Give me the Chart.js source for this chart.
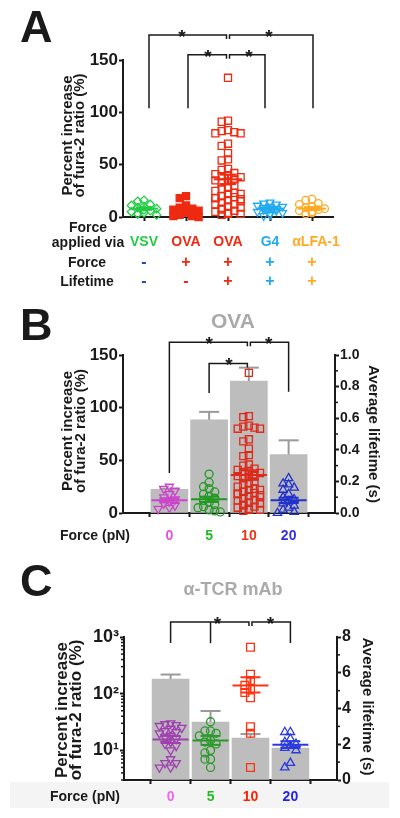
<!DOCTYPE html>
<html>
<head>
<meta charset="utf-8">
<script src="https://cdn.jsdelivr.net/npm/chart.js@4/dist/chart.umd.min.js"></script>
<style>
  body { margin: 0; background: #fff; width: 400px; height: 818px; position: relative; overflow: hidden; }
  canvas { position: absolute; left: 0; }
</style>
</head>
<body>
<canvas id="chartA" width="400" height="300" style="top:0"></canvas>
<canvas id="chartB" width="400" height="260" style="top:300px"></canvas>
<canvas id="chartC" width="400" height="258" style="top:560px"></canvas>
<script>
// ---- Panel A: percent increase of fura-2 ratio ----
const groupsA = ["VSV", "OVA", "OVA", "G4", "\u03b1LFA-1"];
const forceSignsA = ["-", "+", "+", "+", "+"];
const lifetimeSignsA = ["-", "-", "+", "+", "+"];
const ticksA = [0, 50, 100, 150];
const vsvRatio = [16, 15, 12, 11, 10, 9, 8, 7, 6, 5, 4, 3, 3, 2];
const ovaNoLifetimeRatio = [20, 18, 11, 9, 8, 7, 6, 5, 4, 3, 2, 2, 1, 1, 0];
const ovaRatio = [133, 92, 91, 83, 82, 81, 80, 80, 70, 68, 61, 55, 54, 46, 45,
  42, 41, 40, 39, 38, 37, 36, 35, 34, 33, 30, 28, 27, 25, 23, 22, 20, 18, 16, 14,
  12, 10, 8, 6, 5, 4, 3, 3, 2, 22, 20, 19, 18, 17, 15, 12, 9, 7];
const g4Ratio = [14, 13, 12, 11, 10, 10, 9, 8, 8, 7, 6, 5, 4, 3, 2, 1];
const lfaRatio = [17, 16, 13, 12, 10, 9, 8, 7, 6, 5, 4, 3];
const meansA = [8, 6, 36, 8, 8];
const semA = [1.2, 1.8, 4.5, 1, 1.5];

// ---- Panel B: OVA, force in pN ----
const forcesB = ["0", "5", "10", "20"];
const ticksB = [0, 50, 100, 150];
const lifetimeTicksB = [0, 0.2, 0.4, 0.6, 0.8, 1.0];
const lifetimeB = [0.15, 0.59, 0.835, 0.37];
const lifetimeSemB = [0.005, 0.05, 0.085, 0.09];
const ratioB0 = [25, 23, 21, 18, 15, 13, 11, 9, 7, 5, 4];
const ratioB5 = [37, 29, 25, 23, 20, 18, 16, 14, 12, 10, 8, 6, 5, 3, 2, 1];
const ratioB20 = [33, 28, 27, 24, 22, 18, 15, 13, 11, 9, 7, 5, 3, 1, 0];
const meansB = [12, 13, 36, 12];
const semB = [2, 2.5, 4.5, 2.5];

// ---- Panel C: alpha-TCR mAb ----
const forcesC = ["0", "5", "10", "20"];
const ticksC = [10, 100, 1000];
const lifetimeTicksC = [0, 2, 4, 6, 8];
const lifetimeC = [5.65, 3.24, 2.35, 1.79];
const lifetimeSemC = [0.25, 0.62, 0.22, 0.1];
const tcrRatio0 = [30, 29, 28, 27, 25, 24, 22, 21, 20, 18, 17, 16, 14, 13, 12, 10, 7, 6, 6, 5, 5];
const tcrRatio5 = [32, 22, 22, 20, 18, 15, 14, 13, 10, 9, 7, 7, 5];
const tcrRatio10 = [660, 220, 170, 140, 120, 105, 85, 26, 20, 5];
const tcrRatio20 = [21, 21, 16, 14, 13, 12, 11, 10, 6, 5];
const meansC = [15.5, 15, 140, 12.5];
const semLoC = [13.5, 12.5, 105, 11];
const semHiC = [18, 18, 195, 14.5];

// ---- styles ----
const FONT = "'Liberation Sans', Arial, sans-serif";
const INK = "#1a1a1a";
const BAR_GREY = "#bdbdbd";
const colorsA = ["#22cc44", "#ee2a11", "#ee2a11", "#22aaee", "#ffaa22"];
const signColorsA = ["#2244cc", "#ee2a11", "#ee2a11", "#22aaee", "#ffaa22"];
const colorsB = ["#cc44cc", "#229922", "#dd2a1a", "#2233cc"];
const labelColorsB = ["#dd55dd", "#22bb22", "#ee3311", "#3333dd"];
const colorsC = ["#a040b0", "#2a9a2a", "#ff3311", "#2a3ae0"];
const labelColorsC = ["#ee66ee", "#22bb22", "#ff2200", "#2222ee"];

Chart.defaults.font.family = FONT;
Chart.defaults.font.weight = "bold";
Chart.defaults.color = INK;

// spread points sideways where values crowd together
function swarm(values, center, step, gap, frac) {
  const slots = [0, -1, 1, -2, 2];
  const placed = [];
  return values.map(v => {
    const p = frac(v);
    let best = 0, bestHits = Infinity;
    for (const s of slots) {
      const hits = placed.filter(q => q.s === s && Math.abs(q.p - p) < gap).length;
      if (hits < bestHits) { best = s; bestHits = hits; }
      if (hits === 0) break;
    }
    placed.push({ s: best, p });
    return { x: center + best * step, y: v };
  });
}

function pointSet(points, color, style, opts = {}) {
  return Object.assign({
    type: "scatter",
    data: points,
    pointStyle: style,
    pointRadius: 4,
    pointBorderWidth: 1.3,
    borderColor: color,
    backgroundColor: "rgba(0,0,0,0)",
    yAxisID: "y",
    clip: false,
    order: 1
  }, opts);
}

function text(ctx, str, x, y, o = {}) {
  ctx.save();
  ctx.font = `${o.weight || "bold"} ${o.size || 14}px ${FONT}`;
  ctx.fillStyle = o.color || INK;
  ctx.textAlign = o.align || "center";
  ctx.textBaseline = o.baseline || "middle";
  ctx.translate(x, y);
  if (o.rotate) ctx.rotate(o.rotate);
  ctx.fillText(str, 0, 0);
  ctx.restore();
}

function line(ctx, pts, color, width) {
  ctx.save();
  ctx.strokeStyle = color;
  ctx.lineWidth = width;
  ctx.beginPath();
  pts.forEach((p, i) => (i ? ctx.lineTo(p[0], p[1]) : ctx.moveTo(p[0], p[1])));
  ctx.stroke();
  ctx.restore();
}

// half bracket; notch side gets a short drop at the centre
function bracket(ctx, x1, yEnd1, x2, yEnd2, yLevel) {
  line(ctx, [[x1, yEnd1], [x1, yLevel], [x2, yLevel], [x2, yEnd2]], INK, 1.5);
}

function star(ctx, x, yLevel) {
  text(ctx, "*", x, yLevel + 8, { size: 19, baseline: "alphabetic" });
}

function meanSem(ctx, xs, ys, xv, mean, lo, hi, color, longHalf, shortHalf) {
  const cx = xs.getPixelForValue(xv);
  const my = ys.getPixelForValue(mean);
  const ly = ys.getPixelForValue(lo);
  const hy = ys.getPixelForValue(hi);
  line(ctx, [[cx - longHalf, my], [cx + longHalf, my]], color, 2);
  line(ctx, [[cx, ly], [cx, hy]], color, 2);
  line(ctx, [[cx - shortHalf, ly], [cx + shortHalf, ly]], color, 2);
  line(ctx, [[cx - shortHalf, hy], [cx + shortHalf, hy]], color, 2);
}

function barErrors(ctx, xs, ys, values, sems) {
  values.forEach((v, i) => {
    const cx = xs.getPixelForValue(i + 1);
    const top = ys.getPixelForValue(v + sems[i]);
    const base = ys.getPixelForValue(v);
    line(ctx, [[cx, base], [cx, top]], "#9a9a9a", 2);
    line(ctx, [[cx - 10, top], [cx + 10, top]], "#9a9a9a", 2);
  });
}

function minorTicks(ctx, scale, values, side) {
  values.forEach(v => {
    const py = scale.getPixelForValue(v);
    const x0 = side === "left" ? scale.right : scale.left;
    const x1 = side === "left" ? x0 - 3 : x0 + 3;
    line(ctx, [[x0, py], [x1, py]], INK, 1.5);
  });
}

function axisBase(extra) {
  return Object.assign({
    border: { display: true, color: INK, width: 2 },
    grid: { display: true, drawOnChartArea: false, drawTicks: true, tickLength: 4, tickWidth: 2, tickColor: INK },
    ticks: { font: { size: 17, weight: "bold" }, color: INK, padding: 1 }
  }, extra);
}

function xAxis(count) {
  return axisBase({
    type: "linear", min: 0.5, max: count + 0.5,
    afterBuildTicks: s => { s.ticks = Array.from({ length: count }, (_, i) => ({ value: i + 1 })); },
    ticks: { display: false },
    afterFit: s => { s.height = 5; }
  });
}

function leftTitle(ctx, xa, xb, yc, size) {
  text(ctx, "Percent increase", xa, yc, { size, rotate: -Math.PI / 2, baseline: "alphabetic" });
  text(ctx, "of fura-2 ratio (%)", xb, yc, { size, rotate: -Math.PI / 2, baseline: "alphabetic" });
}

const baseOptions = {
  responsive: false,
  animation: false,
  devicePixelRatio: 1,
  plugins: { legend: { display: false }, tooltip: { enabled: false } }
};

// ================= Panel A =================
const fracA = v => v / 150;
const pointsA = [
  pointSet(swarm(vsvRatio, 1, 0.15, 0.035, fracA), colorsA[0], "rectRot", { pointRadius: 4.2 }),
  pointSet(swarm(ovaNoLifetimeRatio, 2, 0.15, 0.035, fracA), colorsA[1], "rect", { pointRadius: 5, backgroundColor: colorsA[1] }),
  pointSet(swarm(ovaRatio, 3, 0.15, 0.035, fracA), colorsA[2], "rect", { pointRadius: 5 }),
  pointSet(swarm(g4Ratio, 4, 0.15, 0.035, fracA), colorsA[3], "triangle", { pointRadius: 4.5, rotation: 180 }),
  pointSet(swarm(lfaRatio, 5, 0.15, 0.035, fracA), colorsA[4], "circle", { pointRadius: 3.8 })
];

const decorA = {
  id: "decorA",
  afterDatasetsDraw(chart) {
    const { ctx, scales: { x, y } } = chart;
    meansA.forEach((m, i) =>
      meanSem(ctx, x, y, i + 1, m, m - semA[i], m + semA[i], colorsA[i], 14, 8));
  },
  afterDraw(chart) {
    const { ctx, scales: { x, y } } = chart;
    const px = i => x.getPixelForValue(i);
    text(ctx, "A", 20, 42, { size: 45, align: "left", baseline: "alphabetic" });
    leftTitle(ctx, 72, 84, (y.top + y.bottom) / 2 - 3, 15);
    const top = y.getPixelForValue(174), inner = y.getPixelForValue(155), drop = y.getPixelForValue(104);
    const c = px(3);
    bracket(ctx, px(1) + 5, drop, c - 1.5, top + 4, top);
    bracket(ctx, c + 1.5, top + 4, px(5) + 1, drop, top);
    bracket(ctx, px(2) + 2, drop, c - 1.5, inner + 4, inner);
    bracket(ctx, c + 1.5, inner + 4, px(4) - 5, drop, inner);
    star(ctx, (px(1) + c) / 2 - 4, top);
    star(ctx, (c + px(5)) / 2 - 1, top);
    star(ctx, (px(2) + c) / 2 + 1, inner);
    star(ctx, (c + px(4)) / 2, inner);
    text(ctx, "Force", 88, 228, { size: 14 });
    text(ctx, "applied via", 88, 243, { size: 14 });
    text(ctx, "Force", 87, 263, { size: 14 });
    text(ctx, "Lifetime", 87, 282, { size: 14 });
    groupsA.forEach((g, i) => {
      const cx = px(i + 1) + (i === 4 ? 4 : 0);
      text(ctx, g, cx, 242, { size: 14, color: colorsA[i] });
      text(ctx, forceSignsA[i], px(i + 1), 263, { size: 16, color: signColorsA[i] });
      text(ctx, lifetimeSignsA[i], px(i + 1), 282, { size: 16, color: signColorsA[i] });
    });
  }
};

new Chart(document.getElementById("chartA"), {
  type: "scatter",
  data: { datasets: pointsA },
  options: Object.assign({}, baseOptions, {
    layout: { padding: { left: 0, right: 67, top: 60, bottom: 78 } },
    scales: {
      x: xAxis(5),
      y: axisBase({
        min: 0, max: 150,
        afterBuildTicks: s => { s.ticks = ticksA.map(v => ({ value: v })); },
        afterFit: s => { s.width = 123; }
      })
    }
  }),
  plugins: [decorA]
});

// ================= Panel B =================
const fracB = v => v / 150;
const datasetsB = [
  {
    type: "bar", data: lifetimeB.map((v, i) => ({ x: i + 1, y: v })),
    backgroundColor: BAR_GREY, barThickness: 37, yAxisID: "y2", order: 5
  },
  pointSet(swarm(ratioB0, 1, 0.14, 0.035, fracB), colorsB[0], "triangle", { pointRadius: 4.8, rotation: 180 }),
  pointSet(swarm(ratioB5, 2, 0.14, 0.035, fracB), colorsB[1], "circle", { pointRadius: 4 }),
  pointSet(swarm(ovaRatio, 3, 0.14, 0.035, fracB), colorsB[2], "rect", { pointRadius: 5 }),
  pointSet(swarm(ratioB20, 4, 0.14, 0.035, fracB), colorsB[3], "triangle", { pointRadius: 4.8 })
];

const decorB = {
  id: "decorB",
  afterDatasetDraw(chart, args) {
    if (args.index !== 0) return;
    const { ctx, scales: { x, y2 } } = chart;
    barErrors(ctx, x, y2, lifetimeB, lifetimeSemB);
  },
  afterDatasetsDraw(chart) {
    const { ctx, scales: { x, y } } = chart;
    meansB.forEach((m, i) =>
      meanSem(ctx, x, y, i + 1, m, m - semB[i], m + semB[i], colorsB[i], 18, 10));
  },
  afterDraw(chart) {
    const { ctx, scales: { x, y, y2 } } = chart;
    const px = i => x.getPixelForValue(i);
    text(ctx, "B", 20, 40, { size: 45, align: "left", baseline: "alphabetic" });
    text(ctx, "OVA", 233, 22, { size: 21, color: "#aaaaaa" });
    leftTitle(ctx, 72, 85, (y.top + y.bottom) / 2 - 3, 15);
    text(ctx, "Average lifetime (s)", 369, (y.top + y.bottom) / 2, { size: 15, rotate: Math.PI / 2, baseline: "alphabetic" });
    minorTicks(ctx, y2, [0.1, 0.3, 0.5, 0.7, 0.9], "right");
    const top = y.getPixelForValue(162), inner = y.getPixelForValue(142);
    const c = px(3);
    bracket(ctx, px(1), y.getPixelForValue(38), c - 1.5, top + 4, top);
    bracket(ctx, c + 1.5, top + 4, px(4), y.getPixelForValue(115), top);
    bracket(ctx, px(2), y.getPixelForValue(114), c - 1.5, inner + 4, inner);
    star(ctx, (px(1) + c) / 2, top);
    star(ctx, (c + px(4)) / 2, top);
    star(ctx, (px(2) + c) / 2, inner);
    text(ctx, "Force (pN)", 95, 236, { size: 14 });
    forcesB.forEach((f, i) => text(ctx, f, px(i + 1), 236, { size: 14, color: labelColorsB[i] }));
  }
};

new Chart(document.getElementById("chartB"), {
  type: "scatter",
  data: { datasets: datasetsB },
  options: Object.assign({}, baseOptions, {
    layout: { padding: { left: 0, right: 0, top: 55, bottom: 42 } },
    scales: {
      x: xAxis(4),
      y: axisBase({
        min: 0, max: 150,
        afterBuildTicks: s => { s.ticks = ticksB.map(v => ({ value: v })); },
        afterFit: s => { s.width = 123; }
      }),
      y2: axisBase({
        position: "right", min: 0, max: 1,
        afterBuildTicks: s => { s.ticks = lifetimeTicksB.map(v => ({ value: v })); },
        ticks: { font: { size: 14, weight: "bold" }, color: INK, padding: 1, callback: v => v.toFixed(1) },
        afterFit: s => { s.width = 65; }
      })
    }
  }),
  plugins: [decorB]
});

// ================= Panel C =================
const fracC = v => (Math.log10(v) - Math.log10(3)) / (3 - Math.log10(3));
const SUP = { 1: "\u00b9", 2: "\u00b2", 3: "\u00b3" };
const datasetsC = [
  {
    type: "bar", data: lifetimeC.map((v, i) => ({ x: i + 1, y: v })),
    backgroundColor: BAR_GREY, barThickness: 37, yAxisID: "y2", order: 5
  },
  pointSet(swarm(tcrRatio0, 1, 0.14, 0.04, fracC), colorsC[0], "triangle", { pointRadius: 4.8, rotation: 180 }),
  pointSet(swarm(tcrRatio5, 2, 0.14, 0.04, fracC), colorsC[1], "circle", { pointRadius: 4 }),
  pointSet(swarm(tcrRatio10, 3, 0.14, 0.04, fracC), colorsC[2], "rect", { pointRadius: 5.5 }),
  pointSet(swarm(tcrRatio20, 4, 0.14, 0.04, fracC), colorsC[3], "triangle", { pointRadius: 4.8 })
];

const decorC = {
  id: "decorC",
  beforeDraw(chart) {
    const { ctx } = chart;
    ctx.save();
    ctx.fillStyle = "#f4f4f4";
    ctx.fillRect(10, 222, 379, 26);
    ctx.restore();
  },
  afterDatasetDraw(chart, args) {
    if (args.index !== 0) return;
    const { ctx, scales: { x, y2 } } = chart;
    barErrors(ctx, x, y2, lifetimeC, lifetimeSemC);
  },
  afterDatasetsDraw(chart) {
    const { ctx, scales: { x, y } } = chart;
    meansC.forEach((m, i) =>
      meanSem(ctx, x, y, i + 1, m, semLoC[i], semHiC[i], colorsC[i], 18, 10));
  },
  afterDraw(chart) {
    const { ctx, scales: { x, y, y2 } } = chart;
    const px = i => x.getPixelForValue(i);
    text(ctx, "C", 20, 36, { size: 45, align: "left", baseline: "alphabetic" });
    text(ctx, "\u03b1-TCR mAb", 233, 30, { size: 18, color: "#aaaaaa" });
    leftTitle(ctx, 67, 81, 150, 17);
    text(ctx, "Average lifetime (s)", 363, (y.top + y.bottom) / 2 - 2, { size: 15, rotate: Math.PI / 2, baseline: "alphabetic" });
    minorTicks(ctx, y2, [1, 3, 5, 7], "right");
    const minors = [];
    [1, 10, 100].forEach(d => { for (let k = 2; k <= 9; k++) { const v = k * d; if (v >= 3 && v < 1000) minors.push(v); } });
    minorTicks(ctx, y, minors.filter(v => !ticksC.includes(v)), "left");
    const top = y.getPixelForValue(1830), drop = y.getPixelForValue(780);
    const c = px(3);
    bracket(ctx, px(1), drop, c - 1.5, top + 4, top);
    line(ctx, [[px(2), top], [px(2), drop]], INK, 1.5);
    bracket(ctx, c + 1.5, top + 4, px(4), drop, top);
    star(ctx, px(2) + 7, top);
    star(ctx, (c + px(4)) / 2, top);
    text(ctx, "Force (pN)", 85, 237, { size: 14 });
    forcesC.forEach((f, i) => text(ctx, f, px(i + 1), 237, { size: 14, color: labelColorsC[i] }));
  }
};

new Chart(document.getElementById("chartC"), {
  type: "scatter",
  data: { datasets: datasetsC },
  options: Object.assign({}, baseOptions, {
    layout: { padding: { left: 0, right: 0, top: 77, bottom: 33 } },
    scales: {
      x: xAxis(4),
      y: axisBase({
        type: "logarithmic", min: 3, max: 1000,
        afterBuildTicks: s => { s.ticks = ticksC.map(v => ({ value: v })); },
        ticks: { font: { size: 18, weight: "bold" }, color: INK, padding: 1, callback: v => "10" + SUP[Math.round(Math.log10(v))] },
        afterFit: s => { s.width = 124; }
      }),
      y2: axisBase({
        position: "right", min: 0, max: 8,
        afterBuildTicks: s => { s.ticks = lifetimeTicksC.map(v => ({ value: v })); },
        ticks: { font: { size: 16, weight: "bold" }, color: INK, padding: 1 },
        afterFit: s => { s.width = 63; }
      })
    }
  }),
  plugins: [decorC]
});
</script>
</body>
</html>
